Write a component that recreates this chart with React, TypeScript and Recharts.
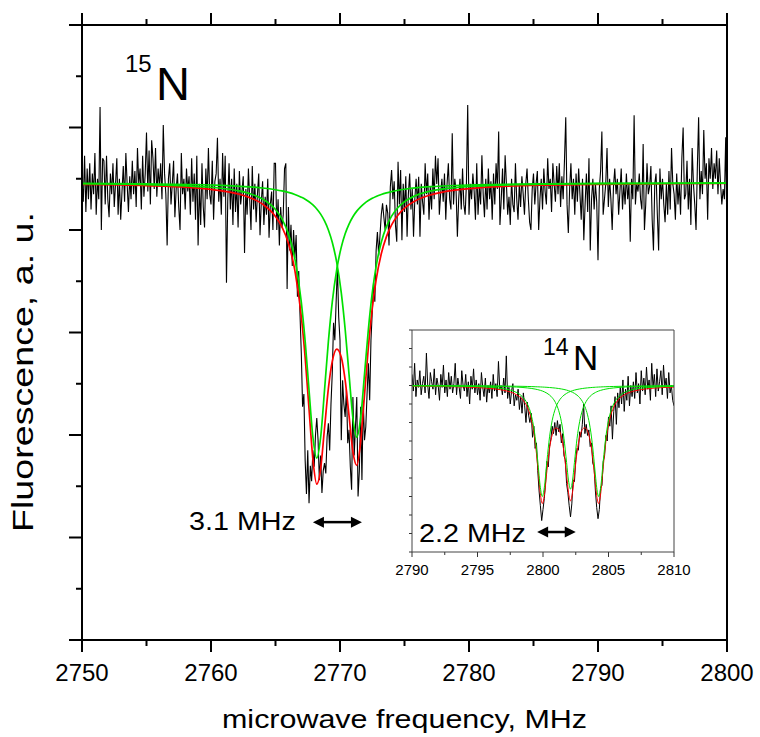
import React from 'react';
import { LineChart, Line, XAxis, YAxis, ReferenceLine } from 'recharts';

const FONT = '"Liberation Sans", Arial, Helvetica, sans-serif';
const RED = '#ff0000';
const GREEN = '#00e000';

// 15N spectrum, 0.1 MHz steps from 2750 MHz
const mainStart = 2750;
const mainStep = 0.1;
const mainSignal = [
  8.95, 8.55, 9.45, 8.35, 9.2, 8.6, 9.3, 8.4, 9.1, 8.7,
  9.5, 8.3, 9.0, 8.6, 10.4, 8.0, 9.4, 9.35, 8.5, 9.45,
  8.6, 8.25, 9.1, 8.7, 9.3, 8.45, 8.9, 9.4, 8.3, 9.0,
  8.2, 8.75, 9.25, 8.55, 9.5, 8.9, 8.35, 9.05, 8.6, 9.35,
  8.7, 9.15, 8.45, 9.6, 8.9, 9.2, 8.4, 9.45, 8.65, 9.1,
  9.9, 8.75, 9.55, 8.5, 9.75, 9.4, 8.8, 9.6, 8.65, 9.2,
  8.85, 9.3, 8.6, 10.05, 9.1, 8.7, 7.7, 9.0, 9.3, 8.5,
  8.9, 9.35, 8.25, 8.8, 9.1, 8.45, 8.0, 9.5, 8.7, 9.0,
  8.4, 9.2, 8.75, 9.05, 8.3, 9.4, 8.55, 9.1, 8.2, 9.45,
  7.7, 8.9, 8.1, 9.3, 8.45, 8.05, 9.2, 8.6, 9.6, 8.7,
  8.5, 9.35, 8.2, 8.95, 9.1, 9.8, 8.55, 9.0, 8.3, 9.5,
  8.65, 9.45, 6.97, 8.6, 9.3, 8.4, 9.0, 8.1, 9.2, 8.35,
  8.9, 8.05, 9.15, 8.5, 8.75, 9.05, 7.55, 8.8, 8.3, 9.2,
  8.6, 8.0, 9.25, 8.4, 8.9, 8.15, 8.7, 9.1, 7.9, 8.55,
  8.95, 8.1, 8.65, 8.3, 9.0, 7.85, 8.5, 8.75, 8.0, 9.3,
  9.3, 8.0, 8.6, 7.7, 8.45, 8.05, 8.3, 9.2, 9.3, 6.85,
  8.45, 7.6, 8.1, 7.3, 8.0, 7.45, 7.9, 6.7, 7.2, 6.35,
  5.6, 4.55, 4.8, 3.5, 2.85, 3.7, 2.67, 3.4, 3.1, 3.7,
  3.38, 4.0, 4.33, 3.9, 3.12, 3.6, 2.87, 3.3, 3.45, 3.25,
  3.96, 4.23, 3.7, 4.6, 5.2, 6.19, 5.85, 6.6, 7.28, 6.3,
  5.85, 3.9, 5.07, 4.6, 4.35, 4.9, 3.84, 4.1, 3.38, 2.93,
  4.74, 3.6, 4.16, 4.74, 2.8, 3.3, 4.55, 3.12, 4.68, 3.9,
  4.16, 4.81, 5.4, 4.68, 5.85, 6.4, 6.97, 6.6, 7.6, 7.96,
  7.5, 7.9, 8.3, 8.52, 8.25, 8.0, 8.49, 8.33, 7.7, 8.84,
  9.17, 8.6, 8.95, 8.1, 7.77, 9.33, 8.5, 9.17, 7.8, 8.9,
  8.35, 9.05, 7.87, 8.7, 9.1, 8.4, 8.8, 7.87, 8.6, 9.0,
  8.5, 9.04, 7.87, 8.9, 8.55, 8.3, 9.3, 8.7, 9.1, 8.2,
  8.85, 8.4, 9.2, 8.6, 9.45, 8.9, 9.4, 8.3, 8.7, 9.0,
  8.55, 9.1, 8.2, 8.9, 9.3, 8.6, 8.4, 9.89, 8.5, 9.0,
  8.75, 7.87, 8.6, 9.0, 8.4, 9.2, 8.5, 8.3, 8.9, 10.44,
  8.3, 8.9, 8.6, 9.1, 8.75, 8.2, 9.3, 8.3, 8.85, 8.5,
  9.46, 8.7, 8.25, 9.0, 8.4, 9.2, 8.6, 8.95, 8.2, 9.1,
  8.5, 9.3, 8.8, 9.92, 8.1, 8.6, 9.2, 8.4, 9.46, 8.9,
  8.3, 8.65, 8.1, 9.0, 8.5, 8.35, 9.3, 8.6, 8.2, 8.9,
  8.45, 9.05, 8.7, 8.3, 8.9, 9.2, 8.6, 8.15, 8.0, 8.8,
  9.1, 8.5, 8.9, 9.15, 8.0, 8.6, 9.0, 8.4, 9.2, 8.75,
  8.5, 9.4, 8.8, 9.0, 8.35, 9.3, 8.9, 8.55, 9.25, 8.7,
  9.3, 8.45, 9.05, 8.6, 9.35, 10.2, 8.5, 7.94, 8.8, 9.3,
  8.6, 9.0, 8.3, 9.1, 8.55, 9.2, 8.7, 8.2, 9.0, 7.8,
  8.5, 9.1, 8.35, 9.4, 7.6, 8.6, 9.0, 8.4, 8.9, 8.55,
  7.41, 8.8, 9.15, 9.92, 8.3, 8.6, 8.9, 9.6, 8.45, 9.0,
  8.6, 8.0, 8.85, 9.2, 8.7, 9.0, 8.3, 8.75, 9.2, 8.4,
  8.9, 8.5, 9.1, 8.6, 8.9, 7.77, 9.0, 8.6, 10.24, 8.5,
  8.9, 8.75, 9.1, 8.6, 8.4, 9.68, 8.0, 8.5, 9.3, 8.7,
  8.85, 9.25, 8.2, 7.6, 8.9, 9.1, 8.3, 7.6, 9.2, 8.6,
  9.0, 8.5, 8.15, 8.9, 8.3, 9.15, 8.4, 9.6, 8.9, 8.7,
  8.2, 9.1, 8.5, 8.9, 8.3, 9.4, 10.0, 8.6, 8.7, 9.35,
  8.4, 9.0, 8.1, 9.6, 8.9, 8.5, 8.0, 9.2, 10.2, 8.6,
  9.15, 8.7, 9.95, 9.0, 9.3, 8.2, 9.4, 9.0, 9.6, 8.8,
  9.3, 9.0, 9.55, 8.7, 9.4, 8.9, 8.5, 8.8, 8.6, 9.81,
  7.8,
];

// fitted curves for 15N (sum and the two single lines)
const mainFitFreq = [
  2750, 2755, 2760, 2762, 2763, 2764, 2765, 2765.5, 2766, 2766.5,
  2767, 2767.3, 2767.6, 2767.9, 2768.2, 2768.5, 2768.8, 2769.1, 2769.4, 2769.75,
  2770.1, 2770.4, 2770.7, 2771, 2771.3, 2771.6, 2771.9, 2772.2, 2772.5, 2772.8,
  2773.2, 2773.6, 2774, 2774.5, 2775, 2776, 2777, 2778, 2780, 2783,
  2786, 2790, 2795, 2800,
];
const mainFitSum = [
  8.89, 8.866, 8.791, 8.709, 8.632, 8.505, 8.265, 8.059, 7.739, 7.214,
  6.315, 5.508, 4.505, 3.525, 3.041, 3.346, 4.132, 4.908, 5.436, 5.675,
  5.518, 5.069, 4.379, 3.674, 3.408, 3.868, 4.784, 5.718, 6.47, 7.026,
  7.536, 7.871, 8.1, 8.294, 8.426, 8.59, 8.683, 8.741, 8.807, 8.854,
  8.876, 8.892, 8.902, 8.908,
];
const mainFitLow = [
  8.902, 8.886, 8.834, 8.771, 8.71, 8.605, 8.399, 8.216, 7.926, 7.44,
  6.594, 5.827, 4.874, 3.956, 3.55, 3.956, 4.874, 5.827, 6.594, 7.233,
  7.666, 7.926, 8.116, 8.259, 8.368, 8.453, 8.521, 8.575, 8.618, 8.655,
  8.694, 8.725, 8.75, 8.775, 8.795, 8.825, 8.845, 8.859, 8.878, 8.893,
  8.901, 8.908, 8.912, 8.914,
];
const mainFitHigh = [
  8.908, 8.9, 8.878, 8.858, 8.842, 8.82, 8.786, 8.763, 8.733, 8.694,
  8.64, 8.601, 8.551, 8.489, 8.411, 8.31, 8.178, 8.001, 7.762, 7.362,
  6.772, 6.063, 5.183, 4.335, 3.96, 4.335, 5.183, 6.063, 6.772, 7.291,
  7.762, 8.066, 8.27, 8.439, 8.551, 8.685, 8.758, 8.801, 8.849, 8.88,
  8.895, 8.904, 8.91, 8.913,
];

const mainXTicks = [2750, 2755, 2760, 2765, 2770, 2775, 2780, 2785, 2790, 2795, 2800];
const mainYTicks = [0, 1, 2, 3, 4, 5, 6, 7, 8, 9, 10, 11, 12];

// 14N inset spectrum, 0.1 MHz steps from 2790 MHz
const insetStart = 2790;
const insetStep = 0.1;
const insetSignal = [
  9.6, 8.7, 10.2, 8.4, 9.3, 8.9, 9.8, 8.5, 9.1, 9.5,
  8.6, 10.75, 9.0, 8.3, 9.7, 9.2, 8.8, 9.9, 8.5, 9.4,
  9.0, 8.2, 9.6, 8.9, 10.1, 8.6, 9.3, 8.4, 9.7, 8.8,
  9.5, 8.6, 9.1, 10.2, 8.5, 9.4, 8.9, 8.3, 9.8, 9.0,
  8.7, 9.6, 8.4, 9.2, 8.0, 9.5, 8.8, 9.9, 8.6, 9.3,
  8.5, 9.1, 8.2, 9.7, 8.9, 8.4, 9.4, 8.1, 9.0, 8.6,
  9.2, 8.3, 9.6, 8.7, 9.1, 8.4, 10.3, 8.8, 9.0, 8.5,
  9.4, 8.6, 10.6, 8.3, 8.9, 8.0, 8.7, 9.1, 7.9, 8.5,
  8.2, 8.8, 7.7, 8.4, 7.5, 8.6, 7.9, 7.0, 8.1, 7.4,
  7.0, 7.5, 6.2, 6.8, 5.6, 5.9, 4.4, 3.3, 2.5, 1.7,
  2.3, 2.9, 3.8, 4.9, 4.6, 5.7, 6.1, 6.8, 6.4, 7.0,
  6.3, 7.1, 6.5, 6.9, 5.9, 6.4, 5.2, 5.0, 3.7, 3.2,
  2.5, 1.9, 2.6, 3.9, 3.8, 5.0, 5.6, 5.5, 6.5, 6.2,
  6.9, 8.0, 6.4, 6.9, 6.3, 6.6, 5.7, 5.9, 4.8, 4.6,
  3.3, 2.4, 1.8, 2.3, 3.5, 3.6, 4.9, 5.2, 6.3, 6.0,
  7.3, 6.8, 7.9, 6.1, 7.6, 8.4, 6.9, 8.6, 7.8, 8.9,
  8.0, 9.3, 7.6, 8.8, 8.2, 9.5, 7.9, 9.0, 8.4, 9.2,
  8.3, 9.7, 8.6, 9.1, 8.0, 9.8, 8.7, 9.4, 8.5, 10.0,
  8.8, 9.3, 8.2, 10.2, 8.9, 9.6, 8.4, 9.9, 8.7, 9.2,
  9.8, 8.5, 10.1, 8.9, 9.4, 8.3, 9.7, 8.6, 9.0, 8.2,
  7.9,
];

const insetFitFreq = [
  2790, 2792, 2794, 2795, 2796, 2797, 2797.5, 2798, 2798.4, 2798.8,
  2799.1, 2799.4, 2799.6, 2799.8, 2799.95, 2800.1, 2800.3, 2800.5, 2800.7, 2800.95,
  2801.2, 2801.4, 2801.6, 2801.8, 2801.95, 2802.1, 2802.25, 2802.4, 2802.6, 2802.8,
  2803, 2803.2, 2803.4, 2803.6, 2803.8, 2804, 2804.1, 2804.25, 2804.4, 2804.6,
  2804.8, 2805.1, 2805.4, 2805.8, 2806.3, 2807, 2808, 2809, 2810,
];
const insetFitSum = [
  8.967, 8.951, 8.919, 8.89, 8.84, 8.741, 8.649, 8.491, 8.264, 7.831,
  7.197, 5.968, 4.627, 3.138, 2.619, 3.047, 4.408, 5.602, 6.326, 6.702,
  6.62, 6.213, 5.408, 4.167, 3.199, 2.761, 3.199, 4.167, 5.408, 6.213,
  6.62, 6.721, 6.537, 6.019, 5.062, 3.693, 3.047, 2.619, 3.138, 4.627,
  5.968, 7.197, 7.831, 8.264, 8.531, 8.709, 8.826, 8.882, 8.915,
];
const insetFitA = [
  8.984, 8.975, 8.956, 8.937, 8.902, 8.826, 8.751, 8.616, 8.414, 8.014,
  7.412, 6.227, 4.922, 3.478, 3.0, 3.478, 4.922, 6.227, 7.103, 7.762,
  8.144, 8.34, 8.477, 8.576, 8.634, 8.68, 8.719, 8.751, 8.786, 8.814,
  8.837, 8.856, 8.872, 8.885, 8.897, 8.906, 8.911, 8.917, 8.922, 8.929,
  8.934, 8.942, 8.948, 8.955, 8.962, 8.969, 8.976, 8.981, 8.985,
];
const insetFitB = [
  8.99, 8.986, 8.978, 8.971, 8.961, 8.945, 8.932, 8.915, 8.896, 8.869,
  8.843, 8.807, 8.776, 8.738, 8.702, 8.658, 8.584, 8.484, 8.344, 8.08,
  7.639, 7.059, 6.145, 4.84, 3.846, 3.4, 3.846, 4.84, 6.145, 7.059,
  7.639, 8.01, 8.253, 8.42, 8.538, 8.624, 8.658, 8.702, 8.738, 8.776,
  8.807, 8.843, 8.869, 8.896, 8.919, 8.94, 8.958, 8.97, 8.977,
];
const insetFitC = [
  8.992, 8.99, 8.985, 8.982, 8.977, 8.97, 8.966, 8.96, 8.955, 8.948,
  8.942, 8.934, 8.929, 8.922, 8.917, 8.911, 8.902, 8.891, 8.879, 8.86,
  8.837, 8.814, 8.786, 8.751, 8.719, 8.68, 8.634, 8.576, 8.477, 8.34,
  8.144, 7.855, 7.412, 6.714, 5.627, 4.163, 3.478, 3.0, 3.478, 4.922,
  6.227, 7.412, 8.014, 8.414, 8.65, 8.801, 8.891, 8.932, 8.953,
];

const insetXTicks = [2790, 2792.5, 2795, 2797.5, 2800, 2802.5, 2805, 2807.5, 2810];
const insetYTicks = [0, 1, 2, 3, 4, 5, 6, 7, 8, 9, 10, 11, 12];

const mainTrace = mainSignal.map((v, i) => ({ f: +(mainStart + i * mainStep).toFixed(2), v }));
const mainFit = mainFitFreq.map((f, i) => ({
  f,
  sum: mainFitSum[i],
  low: mainFitLow[i],
  high: mainFitHigh[i],
}));
const insetTrace = insetSignal.map((v, i) => ({ f: +(insetStart + i * insetStep).toFixed(2), v }));
const insetFit = insetFitFreq.map((f, i) => ({
  f,
  sum: insetFitSum[i],
  a: insetFitA[i],
  b: insetFitB[i],
  c: insetFitC[i],
}));

const MainBottomTick = (props: any) => {
  const { x, y, payload } = props;
  const major = payload.value % 10 === 0;
  return (
    <g>
      <line x1={x} y1={y} x2={x} y2={y + (major ? 12 : 6)} stroke="#000" strokeWidth={2} />
      {major && (
        <text x={x} y={y + 41} textAnchor="middle" fontSize={24} fontFamily={FONT} fill="#000">
          {payload.value}
        </text>
      )}
    </g>
  );
};

const MainTopTick = (props: any) => {
  const { x, y, payload } = props;
  const major = payload.value % 10 === 0;
  return <line x1={x} y1={y} x2={x} y2={y - (major ? 12 : 6)} stroke="#000" strokeWidth={2} />;
};

const MainLeftTick = (props: any) => {
  const { x, y, payload } = props;
  const major = payload.value % 2 === 0;
  return <line x1={x} y1={y} x2={x - (major ? 13 : 6)} y2={y} stroke="#000" strokeWidth={2} />;
};

const InsetBottomTick = (props: any) => {
  const { x, y, payload } = props;
  const major = payload.value % 5 === 0;
  return (
    <g>
      <line x1={x} y1={y} x2={x} y2={y + (major ? 5 : 3)} stroke="#333" strokeWidth={1} />
      {major && (
        <text x={x} y={y + 23} textAnchor="middle" fontSize={15} fontFamily={FONT} fill="#000">
          {payload.value}
        </text>
      )}
    </g>
  );
};

const InsetLeftTick = (props: any) => {
  const { x, y } = props;
  return <line x1={x} y1={y} x2={x - 3} y2={y} stroke="#333" strokeWidth={1} />;
};

const arrowShape = (p: any) => {
  const { x1, y1, x2, y2 } = p;
  if (x1 == null || x2 == null) return <g />;
  const h = 11;
  const w = 5.5;
  return (
    <g>
      <line x1={x1 + h - 1} y1={y1} x2={x2 - h + 1} y2={y2} stroke="#000" strokeWidth={2.5} />
      <polygon points={`${x1},${y1} ${x1 + h},${y1 - w} ${x1 + h},${y1 + w}`} fill="#000" />
      <polygon points={`${x2},${y2} ${x2 - h},${y2 - w} ${x2 - h},${y2 + w}`} fill="#000" />
    </g>
  );
};

const axisBlack = { stroke: '#000', strokeWidth: 2 };
const axisGray = { stroke: '#444', strokeWidth: 1 };

export default function App() {
  return (
    <div style={{ position: 'absolute', left: 0, top: 0, width: 760, height: 737, background: '#fff' }}>
      <div style={{ position: 'absolute', left: 0, top: 0 }}>
        <LineChart width={760} height={737} margin={{ top: 0, right: 0, bottom: 0, left: 0 }}>
          <XAxis
            dataKey="f"
            type="number"
            domain={[2750, 2800]}
            allowDataOverflow
            ticks={mainXTicks}
            interval={0}
            height={97}
            tickSize={0}
            tickMargin={0}
            tickLine={false}
            axisLine={axisBlack}
            tick={MainBottomTick}
          />
          <XAxis
            xAxisId="top"
            orientation="top"
            dataKey="f"
            type="number"
            domain={[2750, 2800]}
            allowDataOverflow
            ticks={mainXTicks}
            interval={0}
            height={25}
            tickSize={0}
            tickMargin={0}
            tickLine={false}
            axisLine={axisBlack}
            tick={MainTopTick}
          />
          <YAxis
            type="number"
            domain={[0, 12]}
            allowDataOverflow
            ticks={mainYTicks}
            interval={0}
            width={82}
            tickSize={0}
            tickMargin={0}
            tickLine={false}
            axisLine={axisBlack}
            tick={MainLeftTick}
          />
          <YAxis
            yAxisId="right"
            orientation="right"
            type="number"
            domain={[0, 12]}
            width={33}
            tick={false}
            tickLine={false}
            axisLine={axisBlack}
          />
          <Line data={mainTrace} dataKey="v" type="linear" stroke="#000" strokeWidth={1.1} dot={false} isAnimationActive={false} />
          <Line data={mainFit} dataKey="sum" type="monotone" stroke={RED} strokeWidth={1.7} dot={false} isAnimationActive={false} />
          <Line data={mainFit} dataKey="low" type="monotone" stroke={GREEN} strokeWidth={1.7} dot={false} isAnimationActive={false} />
          <Line data={mainFit} dataKey="high" type="monotone" stroke={GREEN} strokeWidth={1.7} dot={false} isAnimationActive={false} />
          <ReferenceLine
            segment={[{ x: 2767.9, y: 2.3 }, { x: 2771.7, y: 2.3 }]}
            shape={arrowShape}
            ifOverflow="visible"
          />
        </LineChart>
      </div>

      <div style={{ position: 'absolute', left: 380, top: 320 }}>
        <LineChart width={320} height={265} margin={{ top: 0, right: 0, bottom: 0, left: 0 }}>
          <XAxis
            dataKey="f"
            type="number"
            domain={[2790, 2810]}
            allowDataOverflow
            ticks={insetXTicks}
            interval={0}
            height={33}
            tickSize={0}
            tickMargin={0}
            tickLine={false}
            axisLine={axisGray}
            tick={InsetBottomTick}
          />
          <XAxis
            xAxisId="top"
            orientation="top"
            dataKey="f"
            type="number"
            domain={[2790, 2810]}
            height={10}
            tick={false}
            tickLine={false}
            axisLine={axisGray}
          />
          <YAxis
            type="number"
            domain={[0, 12]}
            allowDataOverflow
            ticks={insetYTicks}
            interval={0}
            width={32}
            tickSize={0}
            tickMargin={0}
            tickLine={false}
            axisLine={axisGray}
            tick={InsetLeftTick}
          />
          <YAxis
            yAxisId="right"
            orientation="right"
            type="number"
            domain={[0, 12]}
            width={26}
            tick={false}
            tickLine={false}
            axisLine={axisGray}
          />
          <Line data={insetTrace} dataKey="v" type="linear" stroke="#000" strokeWidth={1} dot={false} isAnimationActive={false} />
          <Line data={insetFit} dataKey="sum" type="monotone" stroke={RED} strokeWidth={1} dot={false} isAnimationActive={false} />
          <Line data={insetFit} dataKey="a" type="monotone" stroke={GREEN} strokeWidth={1} dot={false} isAnimationActive={false} />
          <Line data={insetFit} dataKey="b" type="monotone" stroke={GREEN} strokeWidth={1} dot={false} isAnimationActive={false} />
          <Line data={insetFit} dataKey="c" type="monotone" stroke={GREEN} strokeWidth={1} dot={false} isAnimationActive={false} />
          <ReferenceLine
            segment={[{ x: 2799.55, y: 1.08 }, { x: 2802.5, y: 1.08 }]}
            shape={arrowShape}
            ifOverflow="visible"
          />
        </LineChart>
      </div>

      <svg
        width={760}
        height={737}
        style={{ position: 'absolute', left: 0, top: 0, pointerEvents: 'none' }}
        fontFamily={FONT}
        fill="#000"
      >
        <text x={125} y={72} fontSize={24}>15</text>
        <text x={156} y={100} fontSize={47}>N</text>
        <text x={189} y={530} fontSize={25} textLength={107} lengthAdjust="spacingAndGlyphs">3.1 MHz</text>
        <text x={543} y={355} fontSize={23}>14</text>
        <text x={573} y={370} fontSize={35}>N</text>
        <text x={419} y={542} fontSize={25} textLength={107} lengthAdjust="spacingAndGlyphs">2.2 MHz</text>
        <text x={404.5} y={728} fontSize={26} textAnchor="middle" textLength={365} lengthAdjust="spacingAndGlyphs">
          microwave frequency, MHz
        </text>
        <text
          x={33}
          y={372}
          fontSize={29}
          textAnchor="middle"
          textLength={320}
          lengthAdjust="spacingAndGlyphs"
          transform="rotate(-90 33 372)"
        >
          Fluorescence, a. u.
        </text>
      </svg>
    </div>
  );
}
